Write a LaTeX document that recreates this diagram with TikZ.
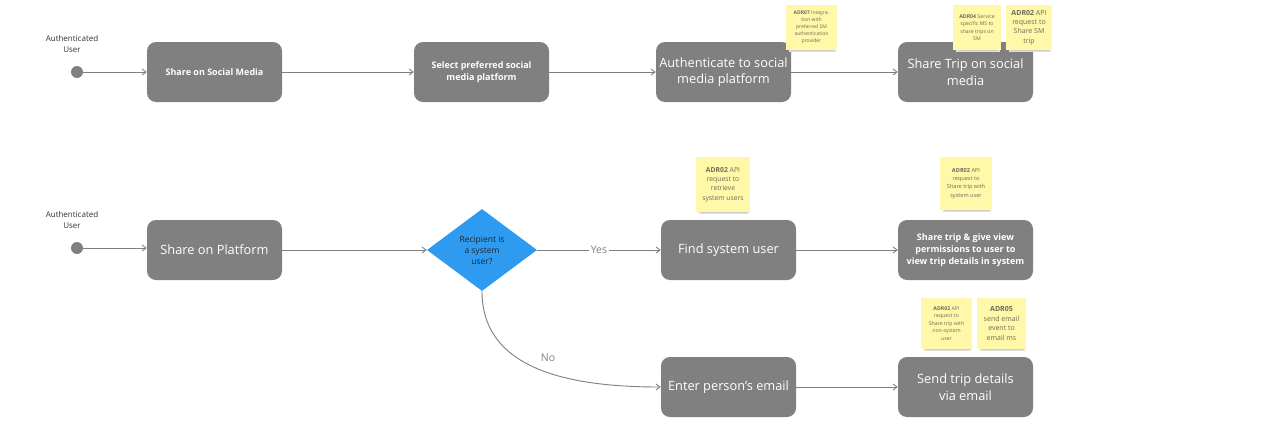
\documentclass[tikz,border=0pt]{standalone}
\usepackage{fontspec}
\setmainfont{Open Sans}
\usetikzlibrary{shapes.geometric,arrows.meta}
\definecolor{boxgray}{HTML}{808080}
\definecolor{linegray}{HTML}{7F7F7F}
\definecolor{sticky}{HTML}{FFF8A8}
\definecolor{diablue}{HTML}{2E9BF0}
\definecolor{stickytext}{HTML}{6B6B5A}
\tikzset{
  stepbox/.style={fill=boxgray, rounded corners=9pt, minimum width=135pt, minimum height=60pt, text=white, align=center, inner sep=2pt},
  small/.style={font=\fontsize{9}{12}\selectfont\bfseries},
  large/.style={font=\fontsize{12.8}{16.5}\selectfont},
  startdot/.style={circle, fill=boxgray, minimum size=12pt, inner sep=0pt},
  actor/.style={font=\fontsize{8}{11}\selectfont, text=black!80, align=center},
  conn/.style={draw=linegray, line width=0.9pt, -{Straight Barb[length=4pt,width=6pt]}},
  note/.style={fill=sticky, align=center, inner sep=1pt, text=stickytext},
  lbl/.style={font=\fontsize{10.5}{13}\selectfont, text=linegray, fill=white, inner sep=2pt},
}
\newcommand{\stickynote}[8]{% name, x, y, w, h, fontsize, baselineskip, text
  \fill[black!12] (#2-#4/2+3, #3+#5/2-3) rectangle (#2+#4/2-1, #3+#5/2+2);
  \fill[black!20] (#2-#4/2+5, #3+#5/2-2) rectangle (#2+#4/2-3, #3+#5/2+1);
  \node[note, minimum width=#4pt, minimum height=#5pt, font=\fontsize{#6}{#7}\selectfont] (#1) at (#2,#3) {#8};
}
\begin{document}
\begin{tikzpicture}[x=1pt,y=-1pt]
\useasboundingbox (0,0) rectangle (1270,442);
\fill[white] (0,0) rectangle (1270,442);

% Row 1
\node[actor] (a1) at (72,44) {Authenticated\\User};
\node[startdot] (s1) at (77,72) {};
\node[stepbox, small] (b1) at (214.5,72) {Share on Social Media};
\node[stepbox, small] (b2) at (481.5,72) {Select preferred social\\media platform};
\node[stepbox, large] (b3) at (723.5,72) {Authenticate to social\\media platform};
\node[stepbox, large] (b4) at (965.5,72) {Share Trip on social\\media};

\draw[conn] (s1) -- (b1);
\draw[conn] (b1) -- (b2);
\draw[conn] (b2) -- (b3);
\draw[conn] (b3) -- (b4);

% Row 2
\node[actor] (a2) at (72,220) {Authenticated\\User};
\node[startdot] (s2) at (77,248) {};
\node[stepbox, large] (b5) at (214.5,250) {Share on Platform};
\node[diamond, fill=diablue, minimum width=110pt, minimum height=82pt, inner sep=0pt, align=center, font=\fontsize{8.5}{11}\selectfont, text=black!85] (d) at (482,250) {Recipient is\\a system\\user?};
\node[stepbox, large] (b6) at (728.5,250) {Find system user};
\node[stepbox, small] (b7) at (965.5,250) {Share trip \& give view\\permissions to user to\\view trip details in system};
\node[stepbox, large] (b8) at (728.5,387) {Enter person's email};
\node[stepbox, large] (b9) at (965.5,387) {Send trip details\\via email};

\draw[conn] (s2.east) -- (b5.west |- s2.east);
\draw[conn] (b5) -- (d.west);
\draw[conn] (d.east) -- node[lbl] {Yes} (b6.west);
\draw[conn] (b6) -- (b7);
\draw[conn] (d.south) .. controls (482,370) and (570,387) .. (b8.west);
\node[font=\fontsize{10.5}{13}\selectfont, text=linegray] (no) at (548,358) {No};
\draw[conn] (b8) -- (b9);

% Sticky notes
\stickynote{n1}{811.5}{27.5}{51}{45}{5}{7}{\textbf{ADR07} Integra-\\tion with\\preferred SM\\authentication\\provider}
\stickynote{n2}{977}{27.5}{48}{45}{5.2}{7.3}{\textbf{ADR04} Service\\specific MS to\\share trips on\\SM}
\stickynote{n3}{1029}{27.5}{46}{45}{7}{9.3}{\textbf{ADR02} API\\request to\\Share SM\\trip}
\stickynote{n4}{723}{184.5}{54}{55}{6.8}{9.3}{\textbf{ADR02} API\\request to\\retrieve\\system users}
\stickynote{n5}{966}{183.5}{52}{53}{5.6}{8.2}{\textbf{ADR02} API\\request to\\Share trip with\\system user}
\stickynote{n6}{946.5}{323.5}{51}{51}{5.2}{7.6}{\textbf{ADR02} API\\request to\\Share trip with\\non-system\\user}
\stickynote{n7}{1001.5}{323.5}{49}{51}{7}{9.8}{\textbf{ADR05}\\send email\\event to\\email ms}
\end{tikzpicture}
\end{document}
